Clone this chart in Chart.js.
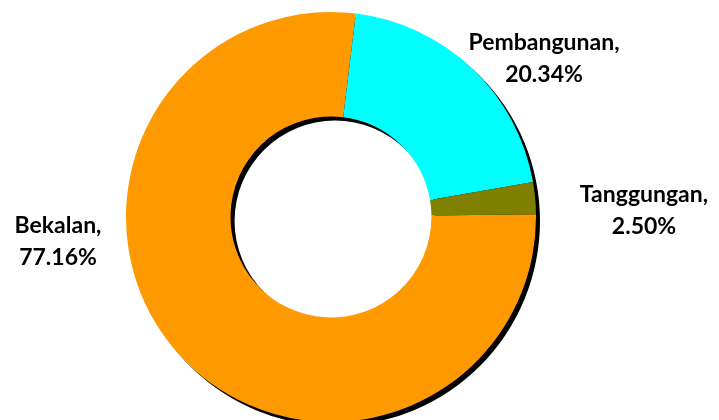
<!DOCTYPE html>
<html>
<head>
<meta charset="utf-8">
<script src="https://cdn.jsdelivr.net/npm/chart.js@4/dist/chart.umd.min.js"></script>
<style>
  html, body { margin: 0; padding: 0; background: #fff; overflow: hidden; }
  #wrap { width: 719px; height: 420px; position: relative; }
</style>
</head>
<body>
<div id="wrap"><canvas id="donut"></canvas></div>
<script>
const categories = ['Bekalan', 'Pembangunan', 'Tanggungan'];
const shares = [77.16, 20.34, 2.50];
const sliceColors = ['#FF9900', '#00FFFF', '#808000'];

// drop shadow under the whole ring (offset right/down, no blur)
const ringShadow = {
    id: 'ringShadow',
    beforeDatasetsDraw(chart, args, opts) {
        const arc = chart.getDatasetMeta(0).data[0];
        if (!arc) return;
        const { x, y, innerRadius, outerRadius } = arc.getProps(['x', 'y', 'innerRadius', 'outerRadius'], true);
        const ctx = chart.ctx;
        ctx.save();
        ctx.fillStyle = '#000';
        ctx.beginPath();
        ctx.arc(x + opts.dx, y + opts.dy, outerRadius, 0, Math.PI * 2);
        ctx.arc(x + opts.dx, y + opts.dy, innerRadius, 0, Math.PI * 2, true);
        ctx.fill();
        ctx.restore();
    }
};

// "Name, xx.xx%" labels placed beside the ring like the Excel original
const sliceLabels = {
    id: 'sliceLabels',
    afterDatasetsDraw(chart, args, opts) {
        const ctx = chart.ctx;
        const arc = chart.getDatasetMeta(0).data[0];
        const cx = arc.x, cy = arc.y;
        ctx.save();
        ctx.font = 'bold 23px Lato';
        ctx.fillStyle = '#000';
        ctx.textAlign = 'center';
        ctx.textBaseline = 'alphabetic';
        categories.forEach((name, i) => {
            const p = opts.anchors[i];
            ctx.fillText(name + ',', cx + p[0], cy + p[1]);
            ctx.fillText(shares[i].toFixed(2) + '%', cx + p[0], cy + p[1] + opts.lineGap);
        });
        ctx.restore();
    }
};

const ctx = document.getElementById('donut');
new Chart(ctx, {
    type: 'doughnut',
    data: {
        labels: categories,
        datasets: [{
            data: shares,
            backgroundColor: sliceColors,
            borderWidth: 0,
            radius: 205,
            clip: false
        }]
    },
    options: {
        responsive: true,
        maintainAspectRatio: false,
        animation: false,
        rotation: 89.2,
        cutout: '49%',
        layout: { padding: { left: 0, right: 57, top: 14, bottom: 0 } },
        plugins: {
            legend: { display: false },
            tooltip: { enabled: false },
            ringShadow: { dx: 4, dy: 4 },
            sliceLabels: {
                lineGap: 32,
                // offsets of each label's first baseline from the ring centre
                anchors: [[-273, 16], [213, -167], [313, -15]]
            }
        }
    },
    plugins: [ringShadow, sliceLabels]
});
</script>
</body>
</html>
